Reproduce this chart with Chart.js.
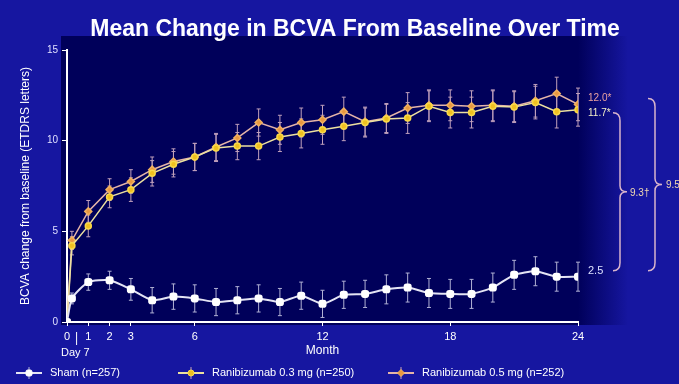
<!DOCTYPE html>
<html>
<head>
<meta charset="utf-8">
<script src="https://cdn.jsdelivr.net/npm/chart.js@4.4.1/dist/chart.umd.min.js"></script>
<style>
  html, body { margin: 0; padding: 0; background: #1616a0; }
  canvas { display: block; }
</style>
</head>
<body>
<canvas id="myChart" width="679" height="384"></canvas>
<script>
// Meses (0, día 7 y meses 1 a 24)
const meses = [0, 0.23, 1, 2, 3, 4, 5, 6, 7, 8, 9, 10, 11, 12, 13, 14, 15, 16, 17, 18, 19, 20, 21, 22, 23, 24];
const xTicks = [0, 1, 2, 3, 6, 12, 18, 24];
const yTicks = [0, 5, 10, 15];

// Valores medios de cada grupo
const sham = [0, 1.3, 2.2, 2.3, 1.8, 1.2, 1.4, 1.3, 1.1, 1.2, 1.3, 1.1, 1.45, 1.0, 1.5, 1.55, 1.8, 1.9, 1.6, 1.55, 1.55, 1.9, 2.6, 2.8, 2.5, 2.5];
const rbz03 = [0, 4.2, 5.3, 6.9, 7.3, 8.2, 8.7, 9.1, 9.6, 9.7, 9.7, 10.2, 10.4, 10.6, 10.8, 11.0, 11.2, 11.25, 11.9, 11.55, 11.55, 11.9, 11.85, 12.1, 11.6, 11.7];
const rbz05 = [0, 4.5, 6.1, 7.3, 7.75, 8.4, 8.85, 9.1, 9.65, 10.15, 11.0, 10.6, 11.0, 11.15, 11.6, 11.05, 11.25, 11.8, 11.95, 11.95, 11.9, 11.95, 11.9, 12.2, 12.6, 12.0];

// Error estándar (barras de error)
const shamErr = [0, 0.3, 0.45, 0.5, 0.6, 0.7, 0.7, 0.75, 0.75, 0.75, 0.75, 0.75, 0.75, 0.75, 0.75, 0.75, 0.8, 0.8, 0.8, 0.8, 0.8, 0.8, 0.8, 0.8, 0.8, 0.8];
const rbz03Err = [0, 0.5, 0.6, 0.6, 0.65, 0.7, 0.7, 0.75, 0.75, 0.75, 0.75, 0.8, 0.8, 0.8, 0.8, 0.8, 0.8, 0.85, 0.85, 0.85, 0.85, 0.85, 0.85, 0.9, 0.9, 0.9];
const rbz05Err = [0, 0.5, 0.6, 0.6, 0.65, 0.7, 0.7, 0.75, 0.75, 0.75, 0.75, 0.8, 0.8, 0.8, 0.8, 0.8, 0.8, 0.85, 0.85, 0.85, 0.85, 0.85, 0.85, 0.9, 0.9, 0.9];

const etiquetas = ["Sham (n=257)", "Ranibizumab 0.3 mg (n=250)", "Ranibizumab 0.5 mg (n=252)"];
const fuente = "'Liberation Sans', Arial, sans-serif";

function puntos(valores) {
    return meses.map((m, i) => ({ x: m, y: valores[i] }));
}

// Fondo azul y área del gráfico más oscura
const fondoPlugin = {
    id: "fondo",
    beforeDraw(chart) {
        const { ctx, chartArea } = chart;
        ctx.save();
        ctx.fillStyle = "#1616a0";
        ctx.fillRect(0, 0, chart.width, chart.height);
        const grad = ctx.createLinearGradient(chartArea.right, 0, chartArea.right + 50, 0);
        grad.addColorStop(0, "#00005a");
        grad.addColorStop(1, "#1616a0");
        ctx.fillStyle = "#00005a";
        ctx.fillRect(chartArea.left - 6, chartArea.top - 14, chartArea.right - chartArea.left + 8, chartArea.bottom - chartArea.top + 17);
        ctx.fillStyle = grad;
        ctx.fillRect(chartArea.right, chartArea.top - 14, 50, chartArea.bottom - chartArea.top + 17);
        ctx.restore();
    }
};

// Barras de error usando las escalas
const errorPlugin = {
    id: "errores",
    beforeDatasetsDraw(chart) {
        const { ctx, scales } = chart;
        ctx.save();
        chart.data.datasets.forEach((ds) => {
            ctx.strokeStyle = ds.errColor;
            ctx.lineWidth = 1;
            ds.data.forEach((p, i) => {
                const e = ds.errs[i];
                if (!e) return;
                const x = scales.x.getPixelForValue(p.x);
                const y1 = scales.y.getPixelForValue(p.y - e);
                const y2 = scales.y.getPixelForValue(p.y + e);
                ctx.beginPath();
                ctx.moveTo(x, y1); ctx.lineTo(x, y2);
                ctx.moveTo(x - 2, y1); ctx.lineTo(x + 2, y1);
                ctx.moveTo(x - 2, y2); ctx.lineTo(x + 2, y2);
                ctx.stroke();
            });
        });
        ctx.restore();
    }
};

// Llave vertical tipo "}"
function llave(ctx, x, yTop, yBot, w) {
    const mid = (yTop + yBot) / 2;
    ctx.beginPath();
    ctx.moveTo(x - w, yTop);
    ctx.quadraticCurveTo(x, yTop, x, yTop + 8);
    ctx.lineTo(x, mid - 6);
    ctx.quadraticCurveTo(x, mid, x + w, mid);
    ctx.quadraticCurveTo(x, mid, x, mid + 6);
    ctx.lineTo(x, yBot - 8);
    ctx.quadraticCurveTo(x, yBot, x - w, yBot);
    ctx.stroke();
}

// Título, leyenda, anotaciones de la derecha
const textosPlugin = {
    id: "textos",
    afterDraw(chart) {
        const { ctx, scales } = chart;
        const xs = scales.x, ys = scales.y;
        ctx.save();

        // Título
        ctx.fillStyle = "#ffffff";
        ctx.font = `bold 23px ${fuente}`;
        ctx.textAlign = "center";
        ctx.textBaseline = "middle";
        ctx.fillText("Mean Change in BCVA From Baseline Over Time", 355, 30);

        // Día 7
        ctx.font = `11px ${fuente}`;
        ctx.textAlign = "left";
        ctx.fillText("Day 7", 61, 353);
        const xd = xs.getPixelForValue(0.45);
        ctx.strokeStyle = "#ffffff";
        ctx.lineWidth = 1;
        ctx.beginPath();
        ctx.moveTo(xd, 332); ctx.lineTo(xd, 345);
        ctx.stroke();

        // Valores finales
        const xEnd = xs.getPixelForValue(24) + 10;
        ctx.font = `10px ${fuente}`;
        ctx.fillStyle = "#e8a0a0";
        ctx.fillText("12.0*", xEnd, ys.getPixelForValue(rbz05[25]) - 6);
        ctx.fillStyle = "#f4f0c8";
        ctx.fillText("11.7*", xEnd, ys.getPixelForValue(rbz03[25]) + 3);
        ctx.fillStyle = "#dce0ff";
        ctx.font = `11px ${fuente}`;
        ctx.fillText("2.5", xEnd, ys.getPixelForValue(sham[25]) - 6);

        // Llaves de diferencia
        ctx.strokeStyle = "#d8b4cc";
        ctx.lineWidth = 1.5;
        const yS = ys.getPixelForValue(sham[25]) - 6;
        const y3 = ys.getPixelForValue(rbz03[25]) + 3;
        const y5 = ys.getPixelForValue(rbz05[25]) - 6;
        llave(ctx, 620, y3, yS, 7);
        llave(ctx, 655, y5, yS, 7);
        ctx.font = `10px ${fuente}`;
        ctx.fillStyle = "#f0d8b0";
        ctx.fillText("9.3\u2020", 630, (y3 + yS) / 2 + 1);
        ctx.fillText("9.5\u2020", 666, (y5 + yS) / 2 + 1);

        // Leyenda
        const ds = chart.data.datasets;
        const posX = [16, 178, 388];
        ctx.font = `11px ${fuente}`;
        ds.forEach((d, i) => {
            const x0 = posX[i], y0 = 373;
            ctx.strokeStyle = d.borderColor;
            ctx.lineWidth = 2;
            ctx.beginPath();
            ctx.moveTo(x0, y0); ctx.lineTo(x0 + 26, y0);
            ctx.stroke();
            ctx.strokeStyle = d.errColor;
            ctx.lineWidth = 1;
            ctx.beginPath();
            ctx.moveTo(x0 + 13, y0 - 6); ctx.lineTo(x0 + 13, y0 + 6);
            ctx.stroke();
            ctx.fillStyle = d.pointBackgroundColor;
            ctx.strokeStyle = d.pointBorderColor;
            Chart.helpers.drawPoint(ctx, {
                pointStyle: d.pointStyle, radius: d.pointRadius, borderWidth: 1
            }, x0 + 13, y0);
            ctx.fillStyle = "#ffffff";
            ctx.textBaseline = "middle";
            ctx.fillText(etiquetas[i], x0 + 34, y0);
        });
        ctx.restore();
    }
};

const config = {
    type: "line",
    data: {
        datasets: [
            {
                label: etiquetas[0],
                data: puntos(sham),
                errs: shamErr,
                errColor: "#b0b0d4",
                borderColor: "#e4e4f4",
                borderWidth: 2,
                pointStyle: "rectRounded",
                pointRadius: 3.5,
                pointBackgroundColor: "#ffffff",
                pointBorderColor: "#ffffff",
                tension: 0.2,
            },
            {
                label: etiquetas[1],
                data: puntos(rbz03),
                errs: rbz03Err,
                errColor: "#c0a0bc",
                borderColor: "#ece0a0",
                borderWidth: 1.5,
                pointStyle: "circle",
                pointRadius: 3,
                pointBackgroundColor: "#f0c020",
                pointBorderColor: "#f8d848",
                tension: 0,
            },
            {
                label: etiquetas[2],
                data: puntos(rbz05),
                errs: rbz05Err,
                errColor: "#c0a0bc",
                borderColor: "#e4b4a8",
                borderWidth: 1.5,
                pointStyle: "rectRot",
                pointRadius: 3.5,
                pointBackgroundColor: "#e89840",
                pointBorderColor: "#f0b060",
                tension: 0,
            }
        ]
    },
    options: {
        responsive: false,
        animation: false,
        layout: {
            padding: { top: 50, left: 14, right: 101, bottom: 24 }
        },
        plugins: {
            legend: { display: false },
            title: { display: false },
            tooltip: { enabled: false }
        },
        scales: {
            x: {
                type: "linear",
                min: 0,
                max: 24,
                afterBuildTicks: (scale) => {
                    scale.ticks = xTicks.map(v => ({ value: v }));
                },
                afterFit: (scale) => { scale.height = 38; },
                border: { color: "#ffffff", width: 2 },
                grid: { display: true, drawOnChartArea: false, color: "#ffffff", tickLength: 4 },
                ticks: {
                    color: "#ffffff",
                    font: { family: fuente, size: 11 },
                    padding: 4,
                    maxRotation: 0,
                    autoSkip: false
                },
                title: {
                    display: true,
                    text: "Month",
                    color: "#ffffff",
                    font: { family: fuente, size: 12 },
                    padding: { top: 0, bottom: 2 }
                }
            },
            y: {
                min: 0,
                max: 15,
                afterBuildTicks: (scale) => {
                    scale.ticks = yTicks.map(v => ({ value: v }));
                },
                afterFit: (scale) => { scale.width = 53; },
                border: { color: "#ffffff", width: 2 },
                grid: { display: true, drawOnChartArea: false, color: "#ffffff", tickLength: 5 },
                ticks: {
                    color: "#e0e0ff",
                    font: { family: fuente, size: 10 },
                    padding: 4
                },
                title: {
                    display: true,
                    text: "BCVA change from baseline (ETDRS letters)",
                    color: "#ffffff",
                    font: { family: fuente, size: 12 },
                    padding: { top: 4, bottom: 4 }
                }
            }
        }
    },
    plugins: [fondoPlugin, errorPlugin, textosPlugin]
};

const myChart = document.getElementById("myChart");
const grafico = new Chart(myChart, config);
</script>
</body>
</html>
